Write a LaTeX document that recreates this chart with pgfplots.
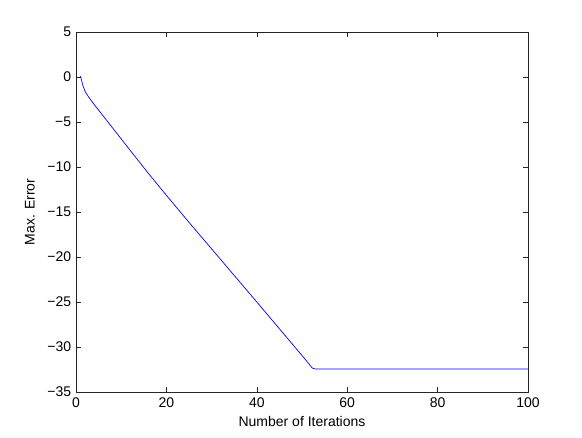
\documentclass[border=0pt]{standalone}
\usepackage{fontspec}
\setmainfont{Liberation Sans}
\usepackage{pgfplots}
\pgfplotsset{compat=1.18}
\begin{document}
\fontsize{14}{16}\selectfont
\begin{tikzpicture}[x=1pt,y=1pt]
\useasboundingbox (0,0) rectangle (582,438);
\begin{axis}[
  at={(76pt,46pt)}, anchor=south west,
  width=452pt, height=360pt, scale only axis,
  xmin=0, xmax=100, ymin=-35, ymax=5,
  xtick={0,20,40,60,80,100},
  ytick={-35,-30,-25,-20,-15,-10,-5,0,5},
  yticklabels={−35,−30,−25,−20,−15,−10,−5,0,5},
  /pgf/number format/assume math mode=true,
  tick align=inside,
  major tick length=5pt,
  axis line style={line width=0.7pt, black!85},
  tick style={line width=0.6pt, black!85},
  every tick label/.style={font=\fontsize{14}{16}\selectfont},
  xticklabel style={yshift=-1pt},
  xlabel={Number of Iterations},
  ylabel={Max. Error},
  label style={font=\fontsize{14}{16}\selectfont},
  xlabel style={yshift=1pt},
  ylabel style={yshift=3pt},
]
\addplot[blue, line width=0.7pt] coordinates {
(1,0.1) (1.5,-0.9) (2,-1.6) (2.5,-2.0) (3,-2.37) (4,-3.05) (5,-3.68) (6,-4.32) (8,-5.6) (10,-6.88) (13,-8.8)
(16,-10.7) (20,-13.15) (25,-16.15) (30,-19.1) (40,-25.0) (50,-30.95) (51,-31.55) (51.8,-32.05)
(52.3,-32.35) (53,-32.45) (100,-32.45)
};
\end{axis}
\end{tikzpicture}
\end{document}
